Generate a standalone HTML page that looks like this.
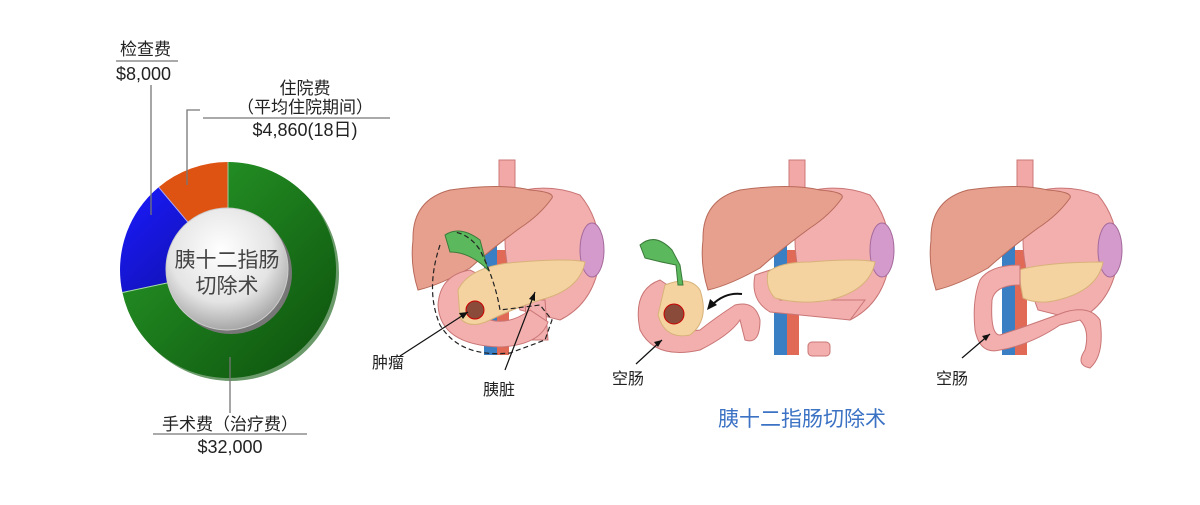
<!DOCTYPE html>
<html><head><meta charset="utf-8"><style>
body{margin:0;background:#fff;width:1200px;height:500px;overflow:hidden}
svg text{font-family:"Liberation Sans","Noto Sans CJK SC",sans-serif}
</style></head><body>
<svg width="1200" height="500" viewBox="0 0 1200 500" xmlns="http://www.w3.org/2000/svg">
<defs>
<radialGradient id="hub" cx="45%" cy="35%" r="70%"><stop offset="0" stop-color="#ffffff"/><stop offset="0.6" stop-color="#e4e4e4"/><stop offset="1" stop-color="#9a9a9a"/></radialGradient>
<linearGradient id="gr" x1="0" y1="0" x2="1" y2="1"><stop offset="0" stop-color="#2aa12a"/><stop offset="1" stop-color="#0c4f0c"/></linearGradient>
<linearGradient id="bl" x1="0" y1="0" x2="1" y2="1"><stop offset="0" stop-color="#1a1aff"/><stop offset="1" stop-color="#1010a0"/></linearGradient>
<g id="organs">
  <rect x="484" y="235" width="13" height="120" fill="#3a7fc3"/>
  <rect x="497" y="250" width="12" height="105" fill="#e06a55"/>
  <rect x="499" y="160" width="16" height="60" fill="#f1a8a6" stroke="#c77" stroke-width="1"/>
  <path d="M500 198 Q540 180 580 195 Q605 225 598 270 Q590 305 560 320 L520 310 Q505 270 505 240 Z" fill="#f3afae" stroke="#c97575"/>
  <path d="M413 240 Q412 200 450 190 Q500 183 530 190 Q555 192 552 198 Q540 215 520 228 Q490 250 470 268 Q440 285 418 290 Q410 265 413 240Z" fill="#e7a08e" stroke="#b86a5a"/>
  <ellipse cx="592" cy="250" rx="12" ry="27" fill="#d39acb" stroke="#a46a9b"/>
</g>
</defs>

<!-- Donut -->
<circle cx="231" cy="273" r="108" fill="#6a9a6a"/>
<path d="M228 270 L228 162 A108 108 0 1 1 122.4 292.5 Z" fill="url(#gr)"/>
<path d="M228 270 L122.4 292.5 A108 108 0 0 1 158.6 187.2 Z" fill="url(#bl)"/>
<path d="M228 270 L158.6 187.2 A108 108 0 0 1 228 162 Z" fill="#de5212"/>
<line x1="228" y1="270" x2="228" y2="162" stroke="#9fd09f" stroke-width="1"/>
<line x1="228" y1="270" x2="158.6" y2="187.2" stroke="#aaaaff" stroke-width="1"/>
<line x1="228" y1="270" x2="122.4" y2="292.5" stroke="#aaddaa" stroke-width="1"/>
<circle cx="231" cy="273" r="61" fill="#777"/>
<circle cx="227" cy="269" r="61" fill="url(#hub)" stroke="#ccc"/>
<text x="227" y="267" font-size="21" text-anchor="middle" fill="#444">胰十二指肠</text>
<text x="227" y="293" font-size="21" text-anchor="middle" fill="#444">切除术</text>

<!-- labels -->
<g stroke="#777" stroke-width="1.3" fill="none">
<line x1="116" y1="61" x2="178" y2="61"/>
<line x1="151" y1="85" x2="151" y2="215"/>
<polyline points="187,185 187,110 200,110"/>
<line x1="203" y1="118" x2="390" y2="118"/>
<line x1="230" y1="357" x2="230" y2="413"/>
<line x1="153" y1="434" x2="307" y2="434"/>
</g>
<g font-size="17" fill="#222">
<text x="120" y="55">检查费</text>
<text x="116" y="80" font-size="18">$8,000</text>
<text x="305" y="94" text-anchor="middle">住院费</text>
<text x="305" y="113" text-anchor="middle">（平均住院期间）</text>
<text x="305" y="136" text-anchor="middle" font-size="18">$4,860(18日)</text>
<text x="230" y="430" text-anchor="middle">手术费（治疗费）</text>
<text x="230" y="453" text-anchor="middle" font-size="18">$32,000</text>
</g>

<!-- illustration 1 -->
<use href="#organs"/>
<path d="M525 300 L545 300 L548 340 L527 340 Z" fill="#f3afae" stroke="#c97575"/>
<path d="M470 270 Q440 275 438 305 Q440 345 500 347 Q540 345 548 322 L530 310 Q510 325 490 320 Q462 312 462 295 Q465 280 480 275Z" fill="#f3afae" stroke="#c97575"/>
<path d="M458 290 Q470 265 520 262 Q570 258 585 262 Q580 290 540 300 Q510 310 490 320 Q470 330 460 318 Z" fill="#f4d3a0" stroke="#d8b27a"/>
<circle cx="475" cy="310" r="9" fill="#8b4b3a" stroke="#c00"/>
<path d="M445 235 Q460 225 480 240 L488 270 Q470 252 450 252Z" fill="#5cb85c" stroke="#3a7a3a"/>
<path d="M440 245 Q425 290 440 325 Q460 358 510 353 L545 340 L552 320 L540 305 L500 310 Q495 280 480 250 Q470 235 455 232" fill="none" stroke="#222" stroke-width="1.2" stroke-dasharray="5,3"/>
<g stroke="#111" stroke-width="1.2"><line x1="400" y1="356" x2="468" y2="312"/><line x1="505" y1="370" x2="535" y2="292"/></g>
<path d="M468 312 l-9 1 l4 6Z M535 292 l-6 7 l6 2Z" fill="#111"/>
<text x="372" y="368" font-size="16" fill="#222">肿瘤</text>
<text x="483" y="395" font-size="16" fill="#222">胰脏</text>

<!-- illustration 2 -->
<g transform="translate(290,0)"><use href="#organs"/>
<path d="M465 275 Q460 300 480 312 L560 320 L575 300 Q520 300 490 300 Q475 285 480 270Z" fill="#f3afae" stroke="#c97575"/>
<path d="M478 272 Q490 262 520 262 Q570 258 585 262 Q580 290 540 300 Q510 305 485 298 Q475 288 478 272Z" fill="#f4d3a0" stroke="#d8b27a"/>
</g>
<path d="M660 280 Q632 290 640 330 Q655 360 700 350 Q730 335 740 320 L745 340 Q760 345 760 320 Q755 300 735 305 Q715 318 700 330 Q670 335 665 310 Q662 295 675 290Z" fill="#f3afae" stroke="#c97575"/>
<path d="M665 285 Q690 275 700 290 Q710 320 690 335 Q665 340 658 315 Z" fill="#f4d3a0" stroke="#d8b27a"/>
<circle cx="674" cy="314" r="10" fill="#8b4b3a" stroke="#c00"/>
<path d="M640 245 Q655 232 672 250 L680 265 L683 285 L678 285 L676 265 Q660 262 645 258 Z" fill="#5cb85c" stroke="#3a7a3a"/>
<rect x="808" y="342" width="22" height="14" rx="4" fill="#f3afae" stroke="#c97575"/>
<path d="M742 294 Q725 292 712 305" fill="none" stroke="#111" stroke-width="2"/>
<path d="M707 310 l3 -11 l7 6Z" fill="#111"/>
<line x1="636" y1="364" x2="662" y2="340" stroke="#111" stroke-width="1.2"/>
<path d="M662 340 l-8 2 l4 5Z" fill="#111"/>
<text x="612" y="384" font-size="16" fill="#222">空肠</text>

<!-- illustration 3 -->
<g transform="translate(518,0)"><use href="#organs"/>
<path d="M500 270 Q530 262 585 262 Q580 290 540 300 Q520 305 505 298Z" fill="#f4d3a0" stroke="#d8b27a"/>
</g>
<path d="M1020 265 Q990 265 980 280 Q972 300 975 330 Q980 355 1000 350 Q1030 345 1060 325 L1080 320 Q1090 330 1085 350 Q1075 365 1090 368 Q1105 355 1100 320 Q1090 305 1065 312 Q1030 325 1000 335 Q990 335 992 300 Q995 285 1020 285Z" fill="#f3afae" stroke="#c97575"/>
<line x1="962" y1="358" x2="990" y2="334" stroke="#111" stroke-width="1.2"/>
<path d="M990 334 l-8 2 l4 5Z" fill="#111"/>
<text x="936" y="384" font-size="16" fill="#222">空肠</text>

<text x="718" y="426" font-size="21" fill="#3b72c4">胰十二指肠切除术</text>
</svg>
</body></html>
